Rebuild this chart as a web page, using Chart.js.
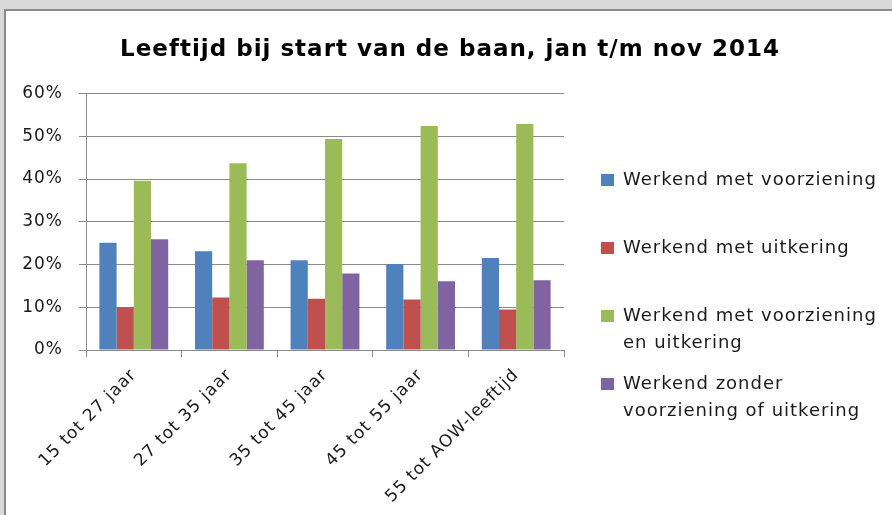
<!DOCTYPE html>
<html>
<head>
<meta charset="utf-8">
<script src="https://cdn.jsdelivr.net/npm/chart.js@4/dist/chart.umd.min.js"></script>
<style>
  html, body { margin: 0; padding: 0; background: #d9d9d9; overflow: hidden; }
  #frame {
    position: absolute; left: 4px; top: 9px; width: 888px; height: 506px;
    background: #fff; border-top: 2px solid #8a8a8a; border-left: 2px solid #8a8a8a;
  }
  #chart { display: block; }
</style>
</head>
<body>
<div id="frame"><canvas id="chart" width="888" height="506"></canvas></div>
<script>
"use strict";

var categories = ["15 tot 27 jaar", "27 tot 35 jaar", "35 tot 45 jaar", "45 tot 55 jaar", "55 tot AOW-leeftijd"];

var series_names = [
  "Werkend met voorziening",
  "Werkend met uitkering",
  "Werkend met voorziening en uitkering",
  "Werkend zonder voorziening of uitkering"
];

// legend text as it is wrapped in the picture
var legend_lines = [
  ["Werkend met voorziening"],
  ["Werkend met uitkering"],
  ["Werkend met voorziening", "en uitkering"],
  ["Werkend zonder", "voorziening of uitkering"]
];

var met_voorziening = [25.1, 23.1, 21.0, 20.1, 21.5];
var met_uitkering = [10.0, 12.3, 12.0, 11.8, 9.5];
var voorziening_en_uitkering = [39.6, 43.7, 49.4, 52.4, 52.9];
var zonder = [25.9, 21.0, 17.9, 16.1, 16.3];

var y_ticks = [0, 10, 20, 30, 40, 50, 60];

var chart_colors = {
  blue: "#4f81bd",
  red: "#c0504d",
  green: "#9bbb59",
  purple: "#8064a2"
};

var font_family = "'DejaVu Sans', sans-serif";

function make_dataset(i, values, color) {
  return {
    label: series_names[i],
    data: values,
    backgroundColor: color,
    borderWidth: 0,
    categoryPercentage: 0.72,
    barPercentage: 1.0
  };
}

// the old office text is spaced a bit wider, so space all canvas text a little
var wide_text = {
  id: "wide_text",
  beforeLayout: function(chart) { chart.ctx.letterSpacing = "1px"; },
  beforeDraw: function(chart) { chart.ctx.letterSpacing = "1px"; }
};

// draws the legend on the right, with wrapped lines
var side_legend = {
  id: "side_legend",
  afterDraw: function(chart) {
    var ctx = chart.ctx;
    var colors = chart.data.datasets.map(function(d) { return d.backgroundColor; });
    var x = 595, y = 169, pitch = 68, line_h = 27;
    ctx.save();
    ctx.font = "18px " + font_family;
    ctx.letterSpacing = "1px";
    ctx.textBaseline = "middle";
    for(var i = 0; i < legend_lines.length; i++) {
      var cy = y + i * pitch;
      ctx.fillStyle = colors[i];
      ctx.fillRect(x, cy - 6, 13, 12);
      ctx.fillStyle = "#1a1a1a";
      for(var j = 0; j < legend_lines[i].length; j++) {
        ctx.fillText(legend_lines[i][j], x + 22, cy + j * line_h);
      }
    }
    ctx.restore();
  }
};

var chart = new Chart(document.getElementById("chart"), {
  type: "bar",
  data: {
    labels: categories,
    datasets: [
      make_dataset(0, met_voorziening, chart_colors.blue),
      make_dataset(1, met_uitkering, chart_colors.red),
      make_dataset(2, voorziening_en_uitkering, chart_colors.green),
      make_dataset(3, zonder, chart_colors.purple)
    ]
  },
  options: {
    responsive: false,
    animation: false,
    layout: { padding: 0 },
    plugins: {
      legend: { display: false },
      tooltip: { enabled: false },
      title: {
        display: true,
        text: "Leeftijd bij start van de baan, jan t/m nov 2014",
        color: "#000",
        font: { family: font_family, size: 23, weight: "bold", lineHeight: 1.2 },
        padding: { top: 25, bottom: 30 },
        align: "center",
        fullSize: true
      }
    },
    scales: {
      x: {
        grid: { drawOnChartArea: false, drawTicks: true, tickLength: 7, color: "#8a8a8a", offset: true },
        border: { color: "#8a8a8a", width: 1 },
        ticks: {
          maxRotation: 45, minRotation: 45, padding: 8,
          color: "#1a1a1a",
          font: { family: font_family, size: 17 }
        },
        afterFit: function(scale) { scale.height = 167; }
      },
      y: {
        min: 0, max: 60,
        afterBuildTicks: function(scale) {
          scale.ticks = y_ticks.map(function(v) { return { value: v }; });
        },
        grid: { color: "#8a8a8a", tickLength: 7, drawTicks: true },
        border: { color: "#8a8a8a", width: 1 },
        ticks: {
          padding: 16,
          color: "#1a1a1a",
          font: { family: font_family, size: 17 },
          callback: function(v) { return v + "%"; }
        },
        afterFit: function(scale) { scale.width = 80; }
      },
      // empty space on the right that holds the legend
      legend_space: {
        axis: "y",
        position: "right",
        min: 0, max: 60,
        grid: { display: false },
        border: { display: false },
        ticks: { display: false },
        afterFit: function(scale) { scale.width = 330; }
      }
    }
  },
  plugins: [wide_text, side_legend]
});
</script>
</body>
</html>
